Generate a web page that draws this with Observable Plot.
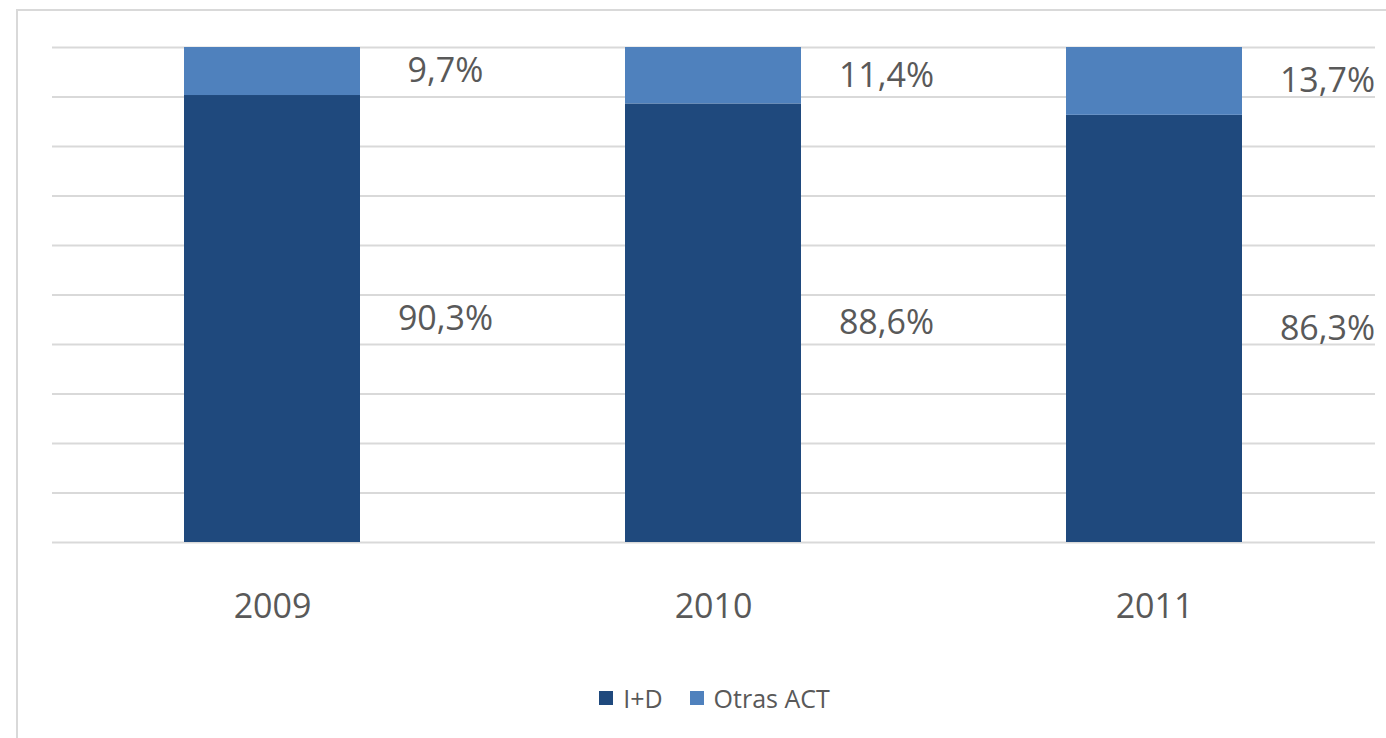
<!DOCTYPE html>
<html>
<head>
<meta charset="utf-8">
<script src="https://cdn.jsdelivr.net/npm/d3@7"></script>
<script src="https://cdn.jsdelivr.net/npm/@observablehq/plot@0.6"></script>
<style>
  body { margin: 0; background: #fff; }
  #wrap { position: relative; width: 1386px; height: 738px; overflow: hidden; font-family: "Open Sans", sans-serif; }
  #frame { position: absolute; left: 16px; top: 9px; width: 1500px; height: 900px; border-left: 2px solid #d9d9d9; border-top: 2px solid #d9d9d9; }
  #chart { position: absolute; left: 0; top: 0; }
  #legend { position: absolute; top: 681px; left: 0; width: 1386px; padding-left: 43px; box-sizing: border-box; display: flex; justify-content: center; align-items: center; gap: 27px; font-size: 25px; line-height: 34px; color: #595959; }
  .item { display: flex; align-items: center; gap: 10px; }
  .sw { width: 14px; height: 14px; display: inline-block; }
</style>
</head>
<body>
<div id="wrap">
  <div id="frame"></div>
  <div id="chart"></div>
  <div id="legend"></div>
</div>
<script>
const years = ["2009", "2010", "2011"];
const seriesNames = ["I+D", "Otras ACT"];
const idValues = [90.3, 88.6, 86.3];
const otrasValues = [9.7, 11.4, 13.7];
const colors = ["#1f497d", "#4f81bd"];
const gridTicks = [0, 10, 20, 30, 40, 50, 60, 70, 80, 90, 100];

const data = [];
years.forEach((y, i) => {
  data.push({year: y, series: seriesNames[0], value: idValues[i]});
  data.push({year: y, series: seriesNames[1], value: otrasValues[i]});
});
const fmt = v => v.toFixed(1).replace(".", ",") + "%";

const chart = Plot.plot({
  width: 1386,
  height: 665,
  marginTop: 47,
  marginBottom: 123,
  marginLeft: 52,
  marginRight: 11,
  style: {background: "transparent", fontFamily: "Open Sans, sans-serif", color: "#595959"},
  x: {domain: years, paddingInner: 0.6, paddingOuter: 0.3, label: null},
  y: {domain: [0, 100], axis: null},
  color: {domain: seriesNames, range: colors},
  marks: [
    Plot.gridY(gridTicks, {stroke: "#d9d9d9", strokeOpacity: 1, strokeWidth: 2}),
    Plot.barY(data, Plot.stackY({x: "year", y: "value", z: "series", fill: "series"})),
    Plot.text(data, Plot.stackY({x: "year", y: "value", z: "series", text: d => fmt(d.value), dx: 173, fill: "#595959", fontSize: 34})),
    Plot.axisX({tickSize: 0, tickPadding: 51, fontSize: 34, fill: "#595959", label: null})
  ]
});
document.getElementById("chart").appendChild(chart);

const legend = document.getElementById("legend");
seriesNames.forEach((s, i) => {
  const item = document.createElement("div");
  item.className = "item";
  const sw = document.createElement("span");
  sw.className = "sw";
  sw.style.background = colors[i];
  const t = document.createElement("span");
  t.textContent = s;
  item.appendChild(sw);
  item.appendChild(t);
  legend.appendChild(item);
});
</script>
</body>
</html>
